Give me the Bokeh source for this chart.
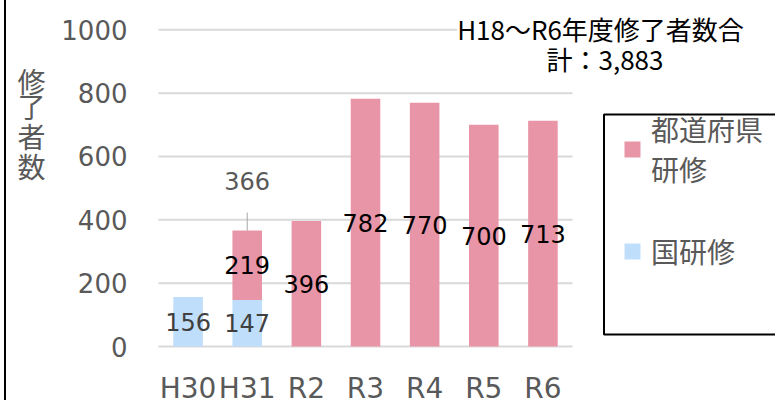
from bokeh.plotting import figure
from bokeh.models import (Range1d, FixedTicker, ColumnDataSource, Label,
                          Legend, LegendItem, BoxAnnotation)
from bokeh.core.properties import value
from bokeh.embed import file_html
from bokeh.resources import INLINE

# ---- data ----
categories = ["H30", "H31", "R2", "R3", "R4", "R5", "R6"]
kuni = [156, 147, 0, 0, 0, 0, 0]               # 国研修
todofuken = [0, 219, 396, 782, 770, 700, 713]  # 都道府県研修
total_h31 = 366
y_ticks = [0, 200, 400, 600, 800, 1000]
note_line1 = "H18～R6年度修了者数合"
note_line2 = "計：3,883"
legend_labels = ["都道府県\n研修", "国研修"]
axis_title = "修了者数"

PINK = "#E995A8"
BLUE = "#BEDEFB"
GRID = "#D9D9D9"
TXT = "#595959"
NUM_FONT = "DejaVu Sans"
JP_FONT = "Noto Sans CJK JP"

# ---- layout (page pixels) ----
OFF_X = 6                 # page x where the canvas starts (margin + border)
W, H = 777 - OFF_X, 400
PLOT_L, PLOT_R = 158.0, 572.0      # category band extent
Y0_PX, YTOP_PX = 346.0, 29.3       # pixel rows of 0 and 1000
n = len(categories)
px_per_cat = (PLOT_R - PLOT_L) / n
x_start = -0.5 - (PLOT_L - OFF_X) / px_per_cat
x_end = -0.5 + (777 - PLOT_L) / px_per_cat
u_per_px = 1000.0 / (Y0_PX - YTOP_PX)
y_start = -(H - Y0_PX) * u_per_px
y_end = 1000 + YTOP_PX * u_per_px

p = figure(width=W, height=H, x_range=Range1d(x_start, x_end), y_range=Range1d(y_start, y_end),
           output_backend="svg", toolbar_location=None,
           min_border_left=0, min_border_right=0, min_border_top=0, min_border_bottom=0)
p.outline_line_color = None
p.background_fill_color = "white"
p.border_fill_color = "white"
p.xgrid.grid_line_color = None
p.ygrid.grid_line_color = None

xs = list(range(n))

# horizontal gridlines limited to the category band
p.segment(x0=[-0.5] * len(y_ticks), x1=[n - 0.5] * len(y_ticks), y0=y_ticks, y1=y_ticks,
          line_color=GRID, line_width=2)

src = ColumnDataSource(dict(x=xs, kuni=kuni, todofuken=todofuken))
rs = p.vbar_stack(["kuni", "todofuken"], x="x", width=0.5, source=src,
                  color=[BLUE, PINK], line_color=None)

# axes at fixed locations inside the frame
p.yaxis.fixed_location = -0.5
p.yaxis.ticker = FixedTicker(ticks=y_ticks)
p.yaxis.axis_line_color = None
p.yaxis.major_tick_line_color = None
p.yaxis.minor_tick_line_color = None
p.yaxis.major_tick_out = 0
p.yaxis.major_tick_in = 0
p.yaxis.major_label_standoff = 31
p.yaxis.major_label_text_font = NUM_FONT
p.yaxis.major_label_text_font_size = "26px"
p.yaxis.major_label_text_color = TXT

p.xaxis.fixed_location = 0
p.xaxis.ticker = FixedTicker(ticks=xs)
p.xaxis.major_label_overrides = {i: c for i, c in zip(xs, categories)}
p.xaxis.axis_line_color = None
p.xaxis.major_tick_line_color = None
p.xaxis.minor_tick_line_color = None
p.xaxis.major_tick_out = 0
p.xaxis.major_tick_in = 0
p.xaxis.major_label_standoff = 25
p.xaxis.major_label_text_font = NUM_FONT
p.xaxis.major_label_text_font_size = "28px"
p.xaxis.major_label_text_color = TXT

# data labels
lab_x, lab_y, lab_t, lab_c = [], [], [], []
for i, k, t in zip(xs, kuni, todofuken):
    if k:
        lab_x.append(i); lab_y.append(k / 2); lab_t.append(str(k)); lab_c.append("#404040")
    if t:
        lab_x.append(i); lab_y.append(k + t / 2); lab_t.append(str(t)); lab_c.append("#000000")
p.text(x=lab_x, y=lab_y, text=lab_t, text_color=lab_c, text_align="center",
       text_baseline="middle", text_font=value(NUM_FONT), text_font_size="24px")

# total label for H31 with leader line
i31 = categories.index("H31")
p.segment(x0=[i31], y0=[total_h31], x1=[i31], y1=[total_h31 + 57],
          line_color="#A6A6A6", line_width=1)
p.text(x=[i31], y=[total_h31 + 155], text=[str(total_h31)], text_color=TXT,
       text_align="center", text_baseline="middle", text_font=value(NUM_FONT),
       text_font_size="24px")

# helpers: page pixel -> frame-relative screen units (origin bottom-left)
def sx(px):
    return px - OFF_X
def sy(py):
    return H - py

# axis title, stacked vertically
for ch, yc in zip(axis_title, [80, 105, 135, 165]):
    p.add_layout(Label(x=sx(31), y=sy(yc), x_units="screen", y_units="screen", text=ch,
                       text_align="center", text_baseline="middle", text_font=JP_FONT,
                       text_font_size="28px", text_color=TXT))

# note (white background hides the gridline behind it)
p.add_layout(Label(x=sx(600), y=sy(27.5), x_units="screen", y_units="screen", text=note_line1,
                   text_align="center", text_baseline="middle", text_font=JP_FONT,
                   text_font_size="26px", text_color="#000000",
                   background_fill_color="white"))
p.add_layout(Label(x=sx(604.5), y=sy(58), x_units="screen", y_units="screen", text=note_line2,
                   text_align="center", text_baseline="middle", text_font=JP_FONT,
                   text_font_size="26px", text_color="#000000"))

# legend box
p.add_layout(BoxAnnotation(left=sx(603.5), right=sx(820), top=sy(114), bottom=sy(334),
                           left_units="screen", right_units="screen", top_units="screen",
                           bottom_units="screen", fill_alpha=0, line_color="black",
                           line_alpha=1.0, line_width=2))

def make_legend(label, renderer, bottom_px):
    return Legend(items=[LegendItem(label=label, renderers=[renderer])],
                  location=(sx(622), sy(bottom_px)), orientation="vertical",
                  glyph_width=20, glyph_height=20, label_standoff=9, padding=0, margin=0,
                  border_line_color=None, background_fill_alpha=0,
                  label_text_font=JP_FONT, label_text_font_size="28px",
                  label_text_color=TXT)

p.add_layout(make_legend(legend_labels[0], rs[1], 188.5), "center")
p.add_layout(make_legend(legend_labels[1], rs[0], 270.5), "center")

p.styles = {"margin-left": "4px", "border-left": "2px solid black"}

open("out.html", "w").write(file_html(p, INLINE))
